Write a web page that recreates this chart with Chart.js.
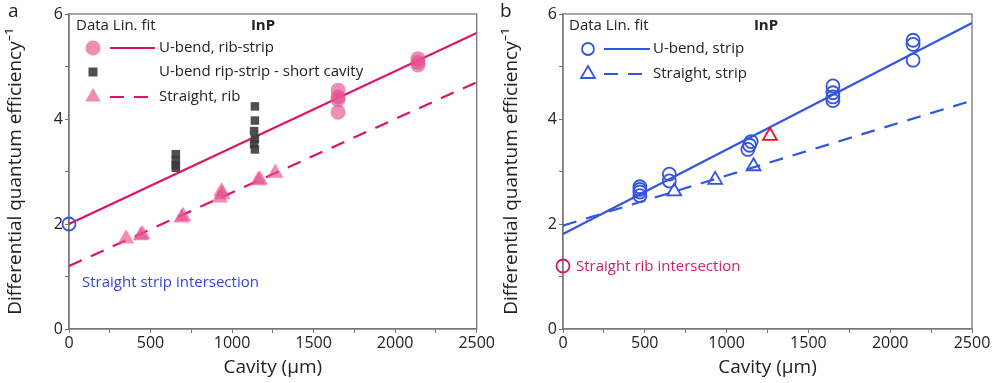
<!DOCTYPE html>
<html>
<head>
<meta charset="utf-8">
<script src="https://cdn.jsdelivr.net/npm/chart.js@4"></script>
<style>
  html, body { margin: 0; padding: 0; background: #fff; }
  #wrap { position: relative; width: 993px; height: 383px; }
  canvas { position: absolute; top: 0; }
</style>
</head>
<body>
<div id="wrap">
  <canvas id="chartA" width="496" height="383" style="left:0"></canvas>
  <canvas id="chartB" width="497" height="383" style="left:496px"></canvas>
</div>
<script>
// ---- panel a data (cavity in um, inverse differential quantum efficiency)
const ribStripX = [1650, 1650, 1650, 1650, 2140, 2140, 2140];
const ribStripY = [4.55, 4.42, 4.37, 4.13, 5.15, 5.08, 5.03];
const shortCavX = [655, 655, 655, 655, 1140, 1140, 1135, 1140, 1135, 1140];
const shortCavY = [3.33, 3.22, 3.12, 3.07, 4.24, 3.97, 3.77, 3.62, 3.52, 3.42];
const straightRibX = [350, 440, 450, 690, 700, 925, 935, 940, 1160, 1170, 1265];
const straightRibY = [1.72, 1.78, 1.80, 2.12, 2.15, 2.50, 2.62, 2.56, 2.83, 2.85, 2.97];
const ribStripFitX = [0, 2500];
const ribStripFitY = [2.0, 5.64];
const straightRibFitX = [0, 2500];
const straightRibFitY = [1.2, 4.70];
const stripInterceptA = [0, 2.0];

// ---- panel b data
const uStripX = [470, 470, 470, 470, 650, 650, 1130, 1140, 1150, 1650, 1650, 1650, 1650, 2140, 2140, 2140];
const uStripY = [2.71, 2.66, 2.61, 2.54, 2.95, 2.82, 3.42, 3.50, 3.57, 4.63, 4.50, 4.42, 4.35, 5.50, 5.42, 5.12];
const straightStripX = [680, 930, 1165];
const straightStripY = [2.62, 2.84, 3.10];
const outlierX = [1265];
const outlierY = [3.68];
const uStripFitX = [0, 2500];
const uStripFitY = [1.81, 5.83];
const straightStripFitX = [0, 2500];
const straightStripFitY = [1.97, 4.35];
const ribInterceptB = [0, 1.2];

const xTicks = [0, 500, 1000, 1500, 2000, 2500];
const yTicks = [0, 2, 4, 6];

const FONT = "'Open Sans', 'Noto Sans', sans-serif";
const PINK = '#dc1468';
const PINK_FILL = 'rgba(230, 80, 145, 0.65)';
const GREY_FILL = 'rgba(60, 60, 60, 0.9)';
const BLUE = '#3355e0';
const DASH = [14, 10];

function pts(xs, ys) {
  return xs.map((x, i) => ({ x: x, y: ys[i] }));
}

// draws the frame, panel letter, inside legend and notes
const decor = {
  id: 'decor',
  beforeDatasetsDraw(chart) {
    const a = chart.chartArea, c = chart.ctx;
    c.save();
    c.strokeStyle = '#777';
    c.lineWidth = 1.3;
    c.strokeRect(a.left, a.top, a.right - a.left, a.bottom - a.top);
    c.restore();
  },
  afterDraw(chart) {
    const o = chart.options.plugins.decor;
    const c = chart.ctx;
    c.save();
    c.textBaseline = 'middle';
    c.fillStyle = '#222';
    c.font = '19px ' + FONT;
    c.fillText(o.letter, o.letterX, 12);

    c.font = '15px ' + FONT;
    c.fillStyle = '#222';
    c.fillText('Data Lin. fit', o.legX, 26);
    c.font = 'bold 15px ' + FONT;
    c.textAlign = 'center';
    c.fillText('InP', o.inpX, 26);
    c.textAlign = 'left';

    o.rows.forEach(r => {
      drawMarker(c, r.marker, o.markX, r.y, r.color, r.fill);
      if (r.line) {
        c.strokeStyle = r.color;
        c.lineWidth = 2.2;
        c.setLineDash(r.line === 'dash' ? DASH : []);
        c.beginPath();
        c.moveTo(o.lineX0, r.y);
        c.lineTo(o.lineX1, r.y);
        c.stroke();
        c.setLineDash([]);
      }
      c.fillStyle = '#222';
      c.font = '15px ' + FONT;
      c.fillText(r.text, o.textX, r.y);
    });

    c.fillStyle = o.note.color;
    c.font = '15px ' + FONT;
    c.fillText(o.note.text, o.note.x, o.note.y);
    c.restore();
  }
};

function drawMarker(c, kind, x, y, color, fill) {
  c.save();
  c.lineWidth = 1.8;
  c.strokeStyle = color;
  c.fillStyle = fill || color;
  c.beginPath();
  if (kind === 'circle') {
    c.arc(x, y, fill ? 7.5 : 6, 0, Math.PI * 2);
  } else if (kind === 'rect') {
    c.rect(x - 4.5, y - 4.5, 9, 9);
  } else {
    const r = fill ? 9 : 8;
    c.moveTo(x, y - r);
    c.lineTo(x + r * 0.87, y + r * 0.5);
    c.lineTo(x - r * 0.87, y + r * 0.5);
    c.closePath();
  }
  if (fill) c.fill(); else c.stroke();
  c.restore();
}

function scales(leftWidth) {
  return {
    x: {
      type: 'linear', min: 0, max: 2500,
      afterFit(s) { s.height = 54; },
      afterBuildTicks(s) {
        s.ticks = [];
        for (let v = 0; v <= 2500; v += 250) s.ticks.push({ value: v });
      },
      ticks: {
        color: '#222', padding: 1, maxRotation: 0,
        font: { family: FONT, size: 16 },
        callback: v => xTicks.includes(v) ? v : ''
      },
      grid: { drawOnChartArea: false, tickLength: 4, color: '#777' },
      border: { color: '#777', width: 1.3 },
      title: { display: true, text: 'Cavity (µm)', color: '#222', padding: { top: 0 },
               font: { family: FONT, size: 19 } }
    },
    y: {
      type: 'linear', min: 0, max: 6,
      afterFit(s) { s.width = leftWidth; },
      afterBuildTicks(s) {
        s.ticks = [];
        for (let v = 0; v <= 6; v += 1) s.ticks.push({ value: v });
      },
      ticks: {
        color: '#222', padding: 2,
        font: { family: FONT, size: 16 },
        callback: v => yTicks.includes(v) ? v : ''
      },
      grid: { drawOnChartArea: false, tickLength: 4, color: '#777' },
      border: { color: '#777', width: 1.3 },
      title: { display: true, text: 'Differential quantum efficiency⁻¹', color: '#222',
               padding: { bottom: 2 }, font: { family: FONT, size: 19 } }
    }
  };
}

function fitLine(xs, ys, color, dashed) {
  return {
    type: 'line', data: pts(xs, ys), borderColor: color, borderWidth: 2.2,
    borderDash: dashed ? DASH : [], pointRadius: 0, fill: false, order: 5
  };
}

function scatter(xs, ys, style, radius, fill, stroke, width) {
  return {
    type: 'scatter', data: pts(xs, ys), pointStyle: style, pointRadius: radius,
    backgroundColor: fill, borderColor: stroke, borderWidth: width || 0,
    clip: false, order: 1
  };
}

const common = {
  responsive: false,
  animation: false,
  plugins: { legend: { display: false }, tooltip: { enabled: false } }
};

new Chart(document.getElementById('chartA'), {
  type: 'scatter',
  data: {
    datasets: [
      scatter(ribStripX, ribStripY, 'circle', 7.5, PINK_FILL, PINK_FILL, 0),
      scatter(shortCavX, shortCavY, 'rect', 6, GREY_FILL, GREY_FILL, 0),
      scatter(straightRibX, straightRibY, 'triangle', 9.5, PINK_FILL, PINK_FILL, 0),
      scatter([stripInterceptA[0]], [stripInterceptA[1]], 'circle', 6.5, 'rgba(0,0,0,0)', BLUE, 1.8),
      fitLine(ribStripFitX, ribStripFitY, PINK, false),
      fitLine(straightRibFitX, straightRibFitY, PINK, true)
    ]
  },
  options: Object.assign({}, common, {
    layout: { padding: { left: 0, right: 16, top: 14, bottom: 0 } },
    scales: scales(69),
    plugins: Object.assign({}, common.plugins, {
      decor: {
        letter: 'a', letterX: 8, legX: 76, inpX: 263,
        markX: 93, lineX0: 110, lineX1: 155, textX: 159,
        rows: [
          { marker: 'circle', y: 48, color: PINK, fill: PINK_FILL, line: 'solid', text: 'U-bend, rib-strip' },
          { marker: 'rect', y: 72, color: GREY_FILL, fill: GREY_FILL, line: null, text: 'U-bend rip-strip - short cavity' },
          { marker: 'tri', y: 97, color: PINK, fill: PINK_FILL, line: 'dash', text: 'Straight, rib' }
        ],
        note: { text: 'Straight strip intersection', x: 82, y: 283, color: '#3344dd' }
      }
    })
  }),
  plugins: [decor]
});

new Chart(document.getElementById('chartB'), {
  type: 'scatter',
  data: {
    datasets: [
      scatter(outlierX, outlierY, 'triangle', 8, 'rgba(0,0,0,0)', '#ee1111', 1.8),
      scatter(uStripX, uStripY, 'circle', 6.5, 'rgba(0,0,0,0)', BLUE, 1.8),
      scatter(straightStripX, straightStripY, 'triangle', 8, 'rgba(0,0,0,0)', BLUE, 1.8),
      scatter([ribInterceptB[0]], [ribInterceptB[1]], 'circle', 6.5, 'rgba(0,0,0,0)', PINK, 1.8),
      fitLine(uStripFitX, uStripFitY, BLUE, false),
      fitLine(straightStripFitX, straightStripFitY, BLUE, true)
    ]
  },
  options: Object.assign({}, common, {
    layout: { padding: { left: 0, right: 21, top: 14, bottom: 0 } },
    scales: scales(67),
    plugins: Object.assign({}, common.plugins, {
      decor: {
        letter: 'b', letterX: 4, legX: 73, inpX: 270,
        markX: 92, lineX0: 108, lineX1: 154, textX: 157,
        rows: [
          { marker: 'circle', y: 49, color: BLUE, fill: null, line: 'solid', text: 'U-bend, strip' },
          { marker: 'tri', y: 74, color: BLUE, fill: null, line: 'dash', text: 'Straight, strip' }
        ],
        note: { text: 'Straight rib intersection', x: 80, y: 267, color: '#d0206a' }
      }
    })
  }),
  plugins: [decor]
});
</script>
</body>
</html>
